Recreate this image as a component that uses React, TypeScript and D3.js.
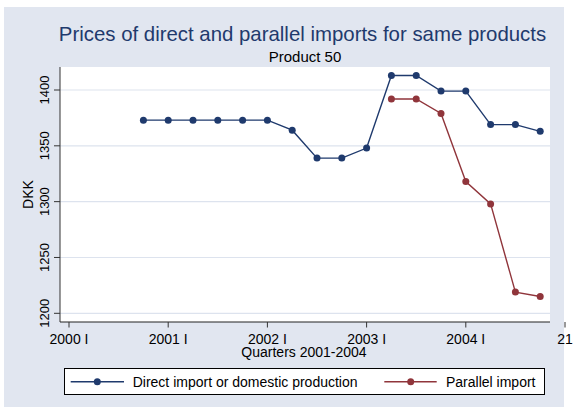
import React from "react";
import * as d3 from "d3";

// quarter index: 0 = 2000 I
const directQuarters = [3, 4, 5, 6, 7, 8, 9, 10, 11, 12, 13, 14, 15, 16, 17, 18, 19];
const directValues = [1373, 1373, 1373, 1373, 1373, 1373, 1364, 1339, 1339, 1348, 1413, 1413, 1399, 1399, 1369, 1369, 1363];
const parallelQuarters = [13, 14, 15, 16, 17, 18, 19];
const parallelValues = [1392, 1392, 1379, 1318, 1298, 1219, 1215];
const xTickQuarters = [0, 4, 8, 12, 16, 20];
const xTickLabels = ["2000 I", "2001 I", "2002 I", "2003 I", "2004 I", "21"];
const yTicks = [1200, 1250, 1300, 1350, 1400];
const seriesNames = ["Direct import or domestic production", "Parallel import"];

const W = 573;
const H = 407;
const NAVY = "#1f3a6d";
const MAROON = "#90353b";
const BG = "#e1e6f0";
const GRID = "#dde3ee";
const FONT = "'Liberation Sans', Arial, sans-serif";

export default function App() {
  const plot = { left: 60, top: 67, right: 550, bottom: 322 };
  const x = d3.scaleLinear().domain([0, 20]).range([69, 565]);
  const y = d3.scaleLinear().domain([1200, 1400]).range([313.3, 90]);

  const line = d3
    .line<[number, number]>()
    .x((d) => x(d[0]))
    .y((d) => y(d[1]));

  const direct: [number, number][] = directQuarters.map((q, i) => [q, directValues[i]]);
  const parallel: [number, number][] = parallelQuarters.map((q, i) => [q, parallelValues[i]]);

  const legendY = 381.7;

  return (
    <div style={{ position: "absolute", left: 0, top: 0 }}>
      <svg width={W} height={H} style={{ display: "block", fontFamily: FONT }}>
        <rect x={0} y={0} width={W} height={H} fill="#ffffff" />
        <rect x={4} y={7} width={560} height={400} fill={BG} />
        {/* title */}
        <text x={302.5} y={40.5} textAnchor="middle" fontSize={20.4} fill={NAVY}>
          Prices of direct and parallel imports for same products
        </text>
        <text x={305} y={61.5} textAnchor="middle" fontSize={15} fill="#000">
          Product 50
        </text>
        {/* plot region */}
        <rect
          x={plot.left}
          y={plot.top}
          width={plot.right - plot.left}
          height={plot.bottom - plot.top}
          fill="#ffffff"
        />
        {yTicks.map((t) => (
          <line
            key={"g" + t}
            x1={plot.left}
            x2={plot.right}
            y1={y(t)}
            y2={y(t)}
            stroke={GRID}
            strokeWidth={1.2}
          />
        ))}
        {/* axes */}
        <line x1={plot.left} x2={plot.left} y1={plot.top} y2={plot.bottom} stroke="#333" strokeWidth={1} />
        <line x1={plot.left} x2={plot.right} y1={plot.bottom} y2={plot.bottom} stroke="#222" strokeWidth={1.2} />
        {yTicks.map((t) => (
          <g key={"yt" + t}>
            <line x1={plot.left - 6} x2={plot.left} y1={y(t)} y2={y(t)} stroke="#333" strokeWidth={1} />
            <text
              transform={`translate(49,${y(t)}) rotate(-90)`}
              textAnchor="middle"
              fontSize={13}
              fill="#000"
            >
              {t}
            </text>
          </g>
        ))}
        {xTickQuarters.map((q, i) => (
          <g key={"xt" + q}>
            <line x1={x(q)} x2={x(q)} y1={plot.bottom} y2={plot.bottom + 5.5} stroke="#333" strokeWidth={1} />
            <text x={x(q)} y={344} textAnchor="middle" fontSize={14} fill="#000">
              {xTickLabels[i]}
            </text>
          </g>
        ))}
        <text x={304} y={356.5} textAnchor="middle" fontSize={14} fill="#000">
          Quarters 2001-2004
        </text>
        <text transform={`translate(33,194.5) rotate(-90)`} textAnchor="middle" fontSize={14} fill="#000">
          DKK
        </text>
        {/* series */}
        <path d={line(direct) || ""} fill="none" stroke={NAVY} strokeWidth={1.4} />
        {direct.map((d, i) => (
          <circle key={"d" + i} cx={x(d[0])} cy={y(d[1])} r={3.5} fill={NAVY} />
        ))}
        <path d={line(parallel) || ""} fill="none" stroke={MAROON} strokeWidth={1.4} />
        {parallel.map((d, i) => (
          <circle key={"p" + i} cx={x(d[0])} cy={y(d[1])} r={3.5} fill={MAROON} />
        ))}
        {/* legend */}
        <rect x={64.5} y={368.5} width={480} height={26} fill="#fff" stroke="#000" strokeWidth={1} />
        <line x1={70.7} x2={124} y1={legendY} y2={legendY} stroke={NAVY} strokeWidth={1.4} />
        <circle cx={97.3} cy={legendY} r={3.5} fill={NAVY} />
        <text x={132.7} y={legendY} dominantBaseline="central" fontSize={14} fill="#000">
          {seriesNames[0]}
        </text>
        <line x1={384.3} x2={436.7} y1={legendY} y2={legendY} stroke={MAROON} strokeWidth={1.4} />
        <circle cx={410.7} cy={legendY} r={3.5} fill={MAROON} />
        <text x={446} y={legendY} dominantBaseline="central" fontSize={14} fill="#000">
          {seriesNames[1]}
        </text>
      </svg>
    </div>
  );
}
